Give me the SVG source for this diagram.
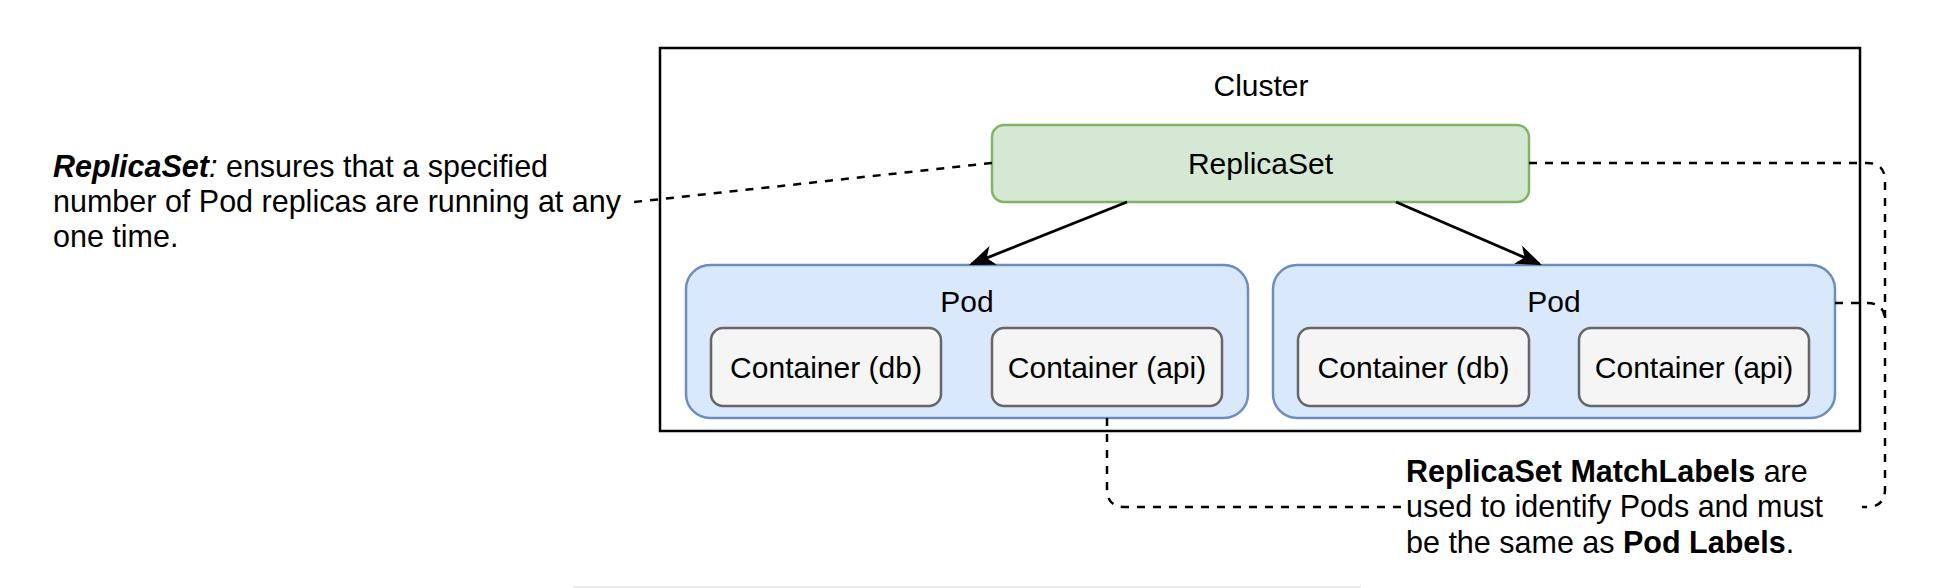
<svg xmlns="http://www.w3.org/2000/svg" width="1954" height="588" viewBox="0 0 1954 588">
  <style>
    text { font-family: "Liberation Sans", Arial, Helvetica, sans-serif; font-size: 30px; fill: #000; }
    .note { font-size: 30.5px; }
    .c { text-anchor: middle; }
    .rs { fill: #d5e8d4; stroke: #82b366; stroke-width: 2.5; }
    .pod { fill: #dae8fc; stroke: #6c8ebf; stroke-width: 2.5; }
    .ctr { fill: #f5f5f5; stroke: #666666; stroke-width: 2.5; }
    .dash { fill: none; stroke: #000; stroke-width: 2.5; stroke-dasharray: 8 8; }
    .arrow { fill: none; stroke: #000; stroke-width: 2.8; marker-end: url(#head); }
    .b { font-weight: bold; }
    .bi { font-weight: bold; font-style: italic; }
  </style>
  <defs>
    <marker id="head" markerUnits="userSpaceOnUse" viewBox="0 0 26 20" markerWidth="26" markerHeight="20" refX="23" refY="10" orient="auto">
      <path d="M0,0 L26,10 L0,20 L7,10 Z" fill="#000"/>
    </marker>
  </defs>

  <line x1="573" y1="587" x2="1361" y2="587" stroke="#ececec" stroke-width="2"/>

  <g id="cluster">
    <rect x="660" y="48" width="1200" height="383" fill="#fff" stroke="#000" stroke-width="2.5"/>
    <text class="c" x="1261" y="96">Cluster</text>
  </g>

  <g id="replicaset">
    <rect class="rs" x="992" y="125" width="537" height="77" rx="12" ry="12"/>
    <text class="c" x="1260.5" y="174">ReplicaSet</text>
  </g>

  <g id="pod1">
    <rect class="pod" x="686" y="265" width="562" height="153" rx="24" ry="24"/>
    <text class="c" x="967" y="312">Pod</text>
  </g>
  <g id="pod1-db">
    <rect class="ctr" x="711" y="328" width="230" height="78" rx="12" ry="12"/>
    <text class="c" x="826" y="378">Container (db)</text>
  </g>
  <g id="pod1-api">
    <rect class="ctr" x="992" y="328" width="230" height="78" rx="12" ry="12"/>
    <text class="c" x="1107" y="378">Container (api)</text>
  </g>

  <g id="pod2">
    <rect class="pod" x="1273" y="265" width="562" height="153" rx="24" ry="24"/>
    <text class="c" x="1554" y="312">Pod</text>
  </g>
  <g id="pod2-db">
    <rect class="ctr" x="1298" y="328" width="231" height="78" rx="12" ry="12"/>
    <text class="c" x="1413.5" y="378">Container (db)</text>
  </g>
  <g id="pod2-api">
    <rect class="ctr" x="1579" y="328" width="230" height="78" rx="12" ry="12"/>
    <text class="c" x="1694" y="378">Container (api)</text>
  </g>

  <g id="note-replicaset">
    <text class="note" x="53" y="177"><tspan class="bi">ReplicaSet</tspan><tspan font-style="italic">:</tspan> ensures that a specified</text>
    <text class="note" x="53" y="212">number of Pod replicas are running at any</text>
    <text class="note" x="53" y="247">one time.</text>
  </g>

  <g id="note-labels">
    <text class="note" x="1406" y="482"><tspan class="b">ReplicaSet MatchLabels</tspan> are</text>
    <text class="note" x="1406" y="517">used to identify Pods and must</text>
    <text class="note" x="1406" y="553">be the same as <tspan class="b">Pod Labels</tspan>.</text>
  </g>

  <g id="connectors">
    <path class="arrow" d="M1127,202 L971.8,263.9"/>
    <path class="arrow" d="M1396,202 L1539.2,263.8"/>
    <path class="dash" d="M992,163 L634,202"/>
    <path class="dash" d="M1529,163 H1867 Q1885,163 1885,181 V489 Q1885,507 1867,507 H1862"/>
    <path class="dash" d="M1835,303 H1867 Q1885,303 1885,321"/>
    <path class="dash" d="M1107,418 V489 Q1107,507 1125,507 H1402"/>
  </g>
</svg>
